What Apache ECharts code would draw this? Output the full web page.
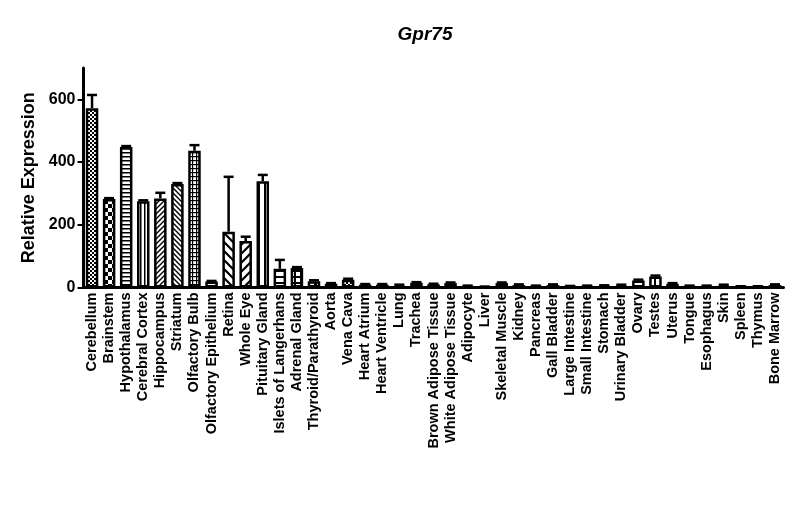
<!DOCTYPE html>
<html>
<head>
<meta charset="utf-8">
<script src="https://cdn.jsdelivr.net/npm/echarts@6/dist/echarts.min.js"></script>
<style>
  html, body { margin: 0; padding: 0; background: #fff; }
  #main { width: 800px; height: 528px; }
</style>
</head>
<body>
<div id="main"></div>
<script>
// tissues, left to right
var tissues = ['Cerebellum', 'Brainstem', 'Hypothalamus', 'Cerebral Cortex', 'Hippocampus',
  'Striatum', 'Olfactory Bulb', 'Olfactory Epithelium', 'Retina', 'Whole Eye',
  'Pituitary Gland', 'Islets of Langerhans', 'Adrenal Gland', 'Thyroid/Parathyroid', 'Aorta',
  'Vena Cava', 'Heart Atrium', 'Heart Ventricle', 'Lung', 'Trachea',
  'Brown Adipose Tissue', 'White Adipose Tissue', 'Adipocyte', 'Liver', 'Skeletal Muscle',
  'Kidney', 'Pancreas', 'Gall Bladder', 'Large Intestine', 'Small Intestine',
  'Stomach', 'Urinary Bladder', 'Ovary', 'Testes', 'Uterus',
  'Tongue', 'Esophagus', 'Skin', 'Spleen', 'Thymus', 'Bone Marrow'];

// mean relative expression
var expression = [572, 282, 448, 275, 284,
  330, 436, 19, 178, 148,
  339, 60, 62, 20, 12,
  25, 9, 9, 7, 15,
  10, 14, 5, 2, 14,
  8, 5, 8, 4, 5,
  6, 7, 22, 35, 12,
  5, 5, 7, 3, 3, 8];

// SEM (upper error bar only)
var errors = [42, 3, 3, 3, 18,
  3, 18, 2, 175, 14,
  20, 28, 3, 3, 2,
  3, 2, 2, 2, 2,
  2, 2, 1, 1, 2,
  2, 1, 2, 1, 1,
  1, 2, 3, 3, 2,
  1, 1, 2, 1, 1, 2];

// fill pattern for each bar
var patterns = ['checkFine', 'checkCoarse', 'hLines', 'vLines', 'diagFine',
  'diagFineBack', 'grid', 'none', 'diagCoarseBack', 'diagCoarse',
  'vCoarse', 'hCoarse', 'gridCoarse', 'dot', 'none',
  'checkFine', 'none', 'none', 'none', 'hLines',
  'none', 'hLines', 'none', 'none', 'none',
  'none', 'none', 'none', 'none', 'none',
  'none', 'none', 'none', 'vCoarse', 'none',
  'none', 'none', 'none', 'none', 'none', 'none'];

var yTicks = [0, 200, 400, 600];

function makePattern(kind) {
  var size = 8;
  if (kind === 'checkFine') size = 4;
  if (kind === 'checkCoarse') size = 8;
  if (kind === 'diagCoarse' || kind === 'diagCoarseBack') size = 9;
  if (kind === 'vCoarse' || kind === 'hCoarse' || kind === 'gridCoarse') size = 6;
  if (kind === 'hLines' || kind === 'vLines' || kind === 'grid') size = 4;
  if (kind === 'diagFine' || kind === 'diagFineBack') size = 5;
  var c = document.createElement('canvas');
  c.width = size; c.height = size;
  var g = c.getContext('2d');
  g.fillStyle = '#fff';
  g.fillRect(0, 0, size, size);
  g.fillStyle = '#000';
  g.strokeStyle = '#000';
  g.lineWidth = 1.4;
  var h = size / 2;
  if (kind === 'checkFine' || kind === 'checkCoarse') {
    g.fillRect(0, 0, h, h);
    g.fillRect(h, h, h, h);
  } else if (kind === 'hLines') {
    g.fillRect(0, 0, size, 1.5);
  } else if (kind === 'vLines') {
    g.fillRect(0, 0, 1.5, size);
  } else if (kind === 'grid') {
    g.fillRect(0, 0, size, 1.2);
    g.fillRect(0, 0, 1.2, size);
  } else if (kind === 'vCoarse') {
    g.fillRect(0, 0, 2, size);
  } else if (kind === 'hCoarse') {
    g.fillRect(0, 0, size, 2);
  } else if (kind === 'gridCoarse') {
    g.fillRect(0, 0, size, 2);
    g.fillRect(0, 0, 2, size);
  } else if (kind === 'dot') {
    g.fillRect(2, 2, 3, 3);
  } else if (kind === 'diagFine' || kind === 'diagCoarse') {
    g.lineWidth = kind === 'diagFine' ? 1.4 : 2.2;
    g.beginPath();
    g.moveTo(-1, size + 1); g.lineTo(size + 1, -1);
    g.moveTo(-1, 1); g.lineTo(1, -1);
    g.moveTo(size - 1, size + 1); g.lineTo(size + 1, size - 1);
    g.stroke();
  } else if (kind === 'diagFineBack' || kind === 'diagCoarseBack') {
    g.lineWidth = kind === 'diagFineBack' ? 1.4 : 2.2;
    g.beginPath();
    g.moveTo(-1, -1); g.lineTo(size + 1, size + 1);
    g.moveTo(size - 1, -1); g.lineTo(size + 1, 1);
    g.moveTo(-1, size - 1); g.lineTo(1, size + 1);
    g.stroke();
  }
  return { image: c, repeat: 'repeat' };
}

var barData = expression.map(function (v, i) {
  return {
    value: v,
    itemStyle: { color: patterns[i] === 'none' ? '#fff' : makePattern(patterns[i]) }
  };
});

var errData = expression.map(function (v, i) {
  return [i, v, v + errors[i]];
});

var chart = echarts.init(document.getElementById('main'));
chart.setOption({
  animation: false,
  backgroundColor: '#fff',
  title: {
    text: 'Gpr75',
    left: 420,
    top: 20,
    textAlign: 'center',
    textStyle: {
      fontFamily: 'Liberation Sans',
      fontSize: 19,
      fontWeight: 'bold',
      fontStyle: 'italic',
      color: '#000'
    }
  },
  grid: { left: 83.5, right: 16.5, top: 68, bottom: 240.5 },
  xAxis: {
    type: 'category',
    data: tissues,
    axisLine: { lineStyle: { color: '#000', width: 3 } },
    axisTick: { alignWithLabel: true, length: 6, lineStyle: { color: '#000', width: 2 } },
    axisLabel: {
      interval: 0,
      rotate: 90,
      margin: 5,
      color: '#000',
      fontFamily: 'Liberation Sans',
      fontWeight: 'bold',
      fontSize: 14.5
    }
  },
  yAxis: {
    type: 'value',
    min: 0,
    max: 700,
    interval: 200,
    name: 'Relative Expression',
    nameLocation: 'middle',
    nameGap: 41,
    nameTextStyle: {
      fontFamily: 'Liberation Sans',
      fontWeight: 'bold',
      fontSize: 18,
      color: '#000'
    },
    splitLine: { show: false },
    axisLine: { show: true, lineStyle: { color: '#000', width: 3 } },
    axisTick: { show: true, length: 6, customValues: yTicks, lineStyle: { color: '#000', width: 2 } },
    axisLabel: {
      customValues: yTicks,
      margin: 8,
      color: '#000',
      fontFamily: 'Liberation Sans',
      fontWeight: 'bold',
      fontSize: 16
    }
  },
  series: [
    {
      type: 'bar',
      data: barData,
      barWidth: 12.5,
      itemStyle: { borderColor: '#000', borderWidth: 2.5 },
      z: 2
    },
    {
      type: 'custom',
      data: errData,
      z: 1,
      renderItem: function (params, api) {
        var x = api.value(0);
        var base = api.coord([x, api.value(1)]);
        var top = api.coord([x, api.value(2)]);
        var style = { stroke: '#000', lineWidth: 2.5 };
        return {
          type: 'group',
          children: [
            { type: 'line', shape: { x1: base[0], y1: base[1], x2: top[0], y2: top[1] }, style: style },
            { type: 'line', shape: { x1: top[0] - 5, y1: top[1], x2: top[0] + 5, y2: top[1] }, style: style }
          ]
        };
      }
    }
  ]
});
</script>
</body>
</html>
